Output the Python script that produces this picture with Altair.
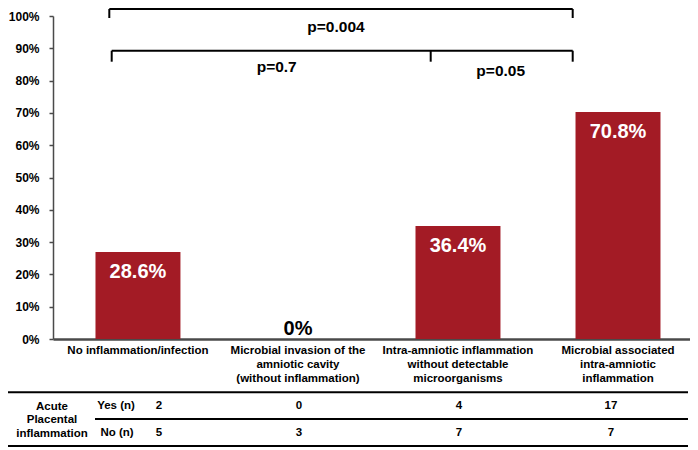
import altair as alt
import pandas as pd

# ---- data ----
categories = [
    "No inflammation/infection",
    "Microbial invasion of the\namniotic cavity\n(without inflammation)",
    "Intra-amniotic inflammation\nwithout detectable\nmicroorganisms",
    "Microbial associated\nintra-amniotic\ninflammation",
]
bar_heights = [26.9, 0.0, 35.0, 70.3]          # drawn bar heights (%)
bar_labels = ["28.6%", "0%", "36.4%", "70.8%"]  # printed labels
yes_counts = [2, 0, 4, 17]
no_counts = [5, 3, 7, 7]
y_ticks = [0, 10, 20, 30, 40, 50, 60, 70, 80, 90, 100]
p_values = ["p=0.004", "p=0.7", "p=0.05"]
row_labels = ["Yes (n)", "No (n)"]
row_group = "Acute\nPlacental\ninflammation"

FONT = "Liberation Sans"
RED = "#A31B25"
W, H = 637, 323

df = pd.DataFrame({
    "cat": categories,
    "height": bar_heights,
    "label": bar_labels,
    "yes": [str(v) for v in yes_counts],
    "no": [str(v) for v in no_counts],
})
one = pd.DataFrame({"k": [0]})

x_enc = alt.X(
    "cat:N",
    sort=categories,
    scale=alt.Scale(domain=categories, paddingInner=0.469, paddingOuter=0.225, align=0.59),
    axis=alt.Axis(labels=False, ticks=False, title=None, domainColor="#4a4a4a", domainWidth=2.5),
)
y_enc = alt.Y(
    "height:Q",
    scale=alt.Scale(domain=[0, 100], nice=False),
    axis=alt.Axis(
        values=y_ticks, labelExpr="datum.value + '%'", grid=False, title=None,
        labelFont=FONT, labelFontSize=12, labelFontWeight="bold", labelColor="black",
        tickSize=4, tickColor="#4a4a4a", tickWidth=1.5, labelPadding=10,
        domainColor="#4a4a4a", domainWidth=1.5, labelOverlap=False, labelFlush=False,
        labelBound=False,
    ),
)

base = alt.Chart(df)

bars = base.mark_bar(color=RED).encode(x=x_enc, y=y_enc)

in_labels = base.transform_filter("datum.height > 0").mark_text(
    color="white", font=FONT, fontSize=20, fontWeight="bold", baseline="alphabetic", dy=26
).encode(x=x_enc, y=y_enc, text="label:N")

zero_labels = base.transform_filter("datum.height == 0").mark_text(
    color="black", font=FONT, fontSize=20, fontWeight="bold", baseline="alphabetic", dy=-4
).encode(x=x_enc, y=y_enc, text="label:N")

cat_labels = base.mark_text(
    font=FONT, fontSize=11.5, fontWeight="bold", baseline="top", lineBreak="\n",
    lineHeight=14, color="black"
).encode(x=x_enc, y=alt.value(329), text="cat:N")

layers = [bars, in_labels, zero_labels, cat_labels]

# table counts (per-column nudges as in the reference)
col_dx = [21, 1, 1, -7]
for i, dx in enumerate(col_dx):
    sub = base.transform_filter(alt.datum.cat == categories[i])
    for field, yv in (("yes", 389.7), ("no", 417)):
        layers.append(
            sub.mark_text(font=FONT, fontSize=11.5, fontWeight="bold", baseline="middle",
                          color="black", dx=dx)
            .encode(x=x_enc, y=alt.value(yv), text=f"{field}:N")
        )

def txt(s, x, y, size=11.5, baseline="middle", lh=None):
    kw = dict(font=FONT, fontSize=size, fontWeight="bold", baseline=baseline, color="black",
              align="center")
    if lh is not None:
        kw.update(lineBreak="\n", lineHeight=lh)
    return alt.Chart(pd.DataFrame({"t": [s]})).mark_text(**kw).encode(
        x=alt.value(x), y=alt.value(y), text="t:N")

def hline(x1, x2, y, w=2):
    return alt.Chart(one).mark_rule(color="black", strokeWidth=w).encode(
        x=alt.value(x1), x2=alt.value(x2), y=alt.value(y))

def vline(x, y1, y2, w=2):
    return alt.Chart(one).mark_rule(color="black", strokeWidth=w).encode(
        x=alt.value(x), y=alt.value(y1), y2=alt.value(y2))

# row labels
layers.append(txt(row_group, -1, 384.5, baseline="top", lh=13.7))
layers.append(txt(row_labels[0], 63, 389.7))
layers.append(txt(row_labels[1], 64, 417))

# table lines
layers += [hline(-45, 635, 376.3), hline(42, 635, 403), hline(-45, 635, 430)]

# significance brackets
layers += [
    hline(56.3, 519.7, -7), vline(56.3, -7, 2), vline(519.7, -7, 2),
    hline(58.7, 519.7, 34.7), vline(58.7, 34.7, 45.7), vline(377.7, 34.7, 45.7),
    vline(519.7, 34.7, 45.7),
]
layers.append(txt(p_values[0], 283, 16, size=15.5, baseline="alphabetic"))
layers.append(txt(p_values[1], 223.7, 55.7, size=15.5, baseline="alphabetic"))
layers.append(txt(p_values[2], 447.7, 60, size=15.5, baseline="alphabetic"))

chart = alt.layer(*layers).properties(
    width=W, height=H,
    autosize=alt.AutoSizeParams(type="none"),
    padding={"left": 45, "top": 8, "right": 0, "bottom": 109},
).configure_view(stroke=None)

chart.save("out.html", embed_options={"renderer": "svg", "actions": False})
